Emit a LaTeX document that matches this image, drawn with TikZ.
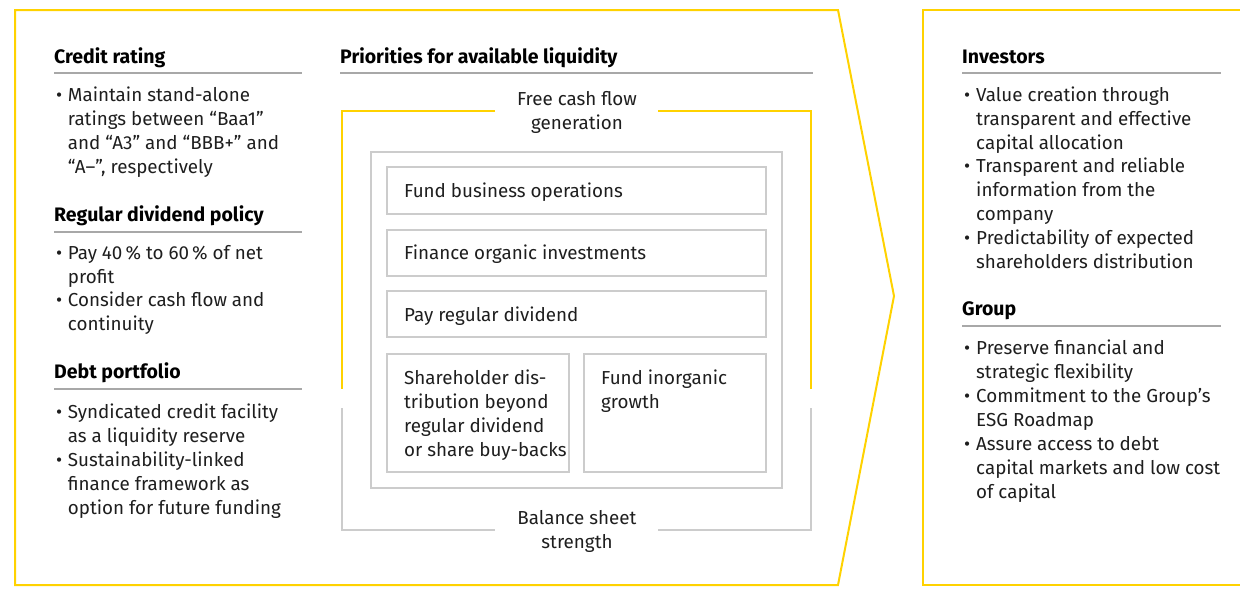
\documentclass[tikz,border=0pt]{standalone}
\usepackage{fontspec}
\setmainfont{Fira Sans}
\definecolor{ayellow}{HTML}{FFD200}
\definecolor{boxgray}{HTML}{CCCCCC}
\definecolor{rulegray}{HTML}{A8A8A8}
\definecolor{ink}{HTML}{1E1E1E}
\newcommand\bodyfnt{\fontsize{18.8}{24}\selectfont}
\newcommand\headfnt{\fontsize{19.5}{24}\selectfont}
\newcommand\sst{\rule{0pt}{16.8pt}}
% #1 style, #2 name, #3 x, #4 baseline y, #5 text
\newcommand\Tn[5]{\node[#1] (#2) at (#3,{#4-16.8}) {\sst#5};}
\begin{document}
\begin{tikzpicture}[x=1pt,y=-1pt,
  txt/.style={anchor=north west, inner sep=0pt, align=left, font=\bodyfnt, text=ink},
  ctxt/.style={anchor=north, inner sep=0pt, align=center, font=\bodyfnt, text=ink},
  head/.style={anchor=north west, inner sep=0pt, align=left, font=\headfnt\bfseries, text=black},
  yline/.style={draw=ayellow, line width=2pt},
  gline/.style={draw=boxgray, line width=2pt},
  hrule/.style={draw=rulegray, line width=1.2pt}]
\useasboundingbox (0,0) rectangle (1240,595);
% outer shapes
\draw[yline, line join=miter] (15,10) -- (838,10) -- (894,296) -- (838,585) -- (15,585) -- cycle;
\draw[yline] (1242,10) -- (923,10) -- (923,585) -- (1242,585);

% left column
\Tn{head}{hcr}{54}{63}{Credit rating}
\draw[hrule] (54,73) -- (302,73);
\Tn{txt}{bu1}{56}{101}{•}
\Tn{txt}{t1}{67.7}{101}{Maintain stand-alone\\ratings between “Baa1”\\and “A3” and “BBB+” and\\“A–”, respectively}
\Tn{head}{hrd}{54}{221}{Regular dividend policy}
\draw[hrule] (54,232) -- (302,232);
\Tn{txt}{bu2}{56}{259}{•}
\Tn{txt}{t2}{67.7}{259}{Pay 40\,\% to 60\,\% of net\\profit}
\Tn{txt}{bu3}{56}{306}{•}
\Tn{txt}{t3}{67.7}{306}{Consider cash flow and\\continuity}
\Tn{head}{hdp}{54}{378}{Debt portfolio}
\draw[hrule] (54,389) -- (302,389);
\Tn{txt}{bu4}{56}{418}{•}
\Tn{txt}{t4}{67.7}{418}{Syndicated credit facility\\as a liquidity reserve}
\Tn{txt}{bu5}{56}{466}{•}
\Tn{txt}{t5}{67.7}{466}{Sustainability-linked\\finance framework as\\option for future funding}

% middle
\Tn{head}{hpr}{340}{63}{Priorities for available liquidity}
\draw[hrule] (340,73) -- (813,73);
\draw[yline] (495,111) -- (342,111) -- (342,389);
\draw[yline] (658,111) -- (811,111) -- (811,389);
\Tn{ctxt}{fcf}{577}{105}{Free cash flow\\generation}
\draw[gline] (342,408) -- (342,530) -- (495,530);
\draw[gline] (811,408) -- (811,530) -- (658,530);
\Tn{ctxt}{bss}{577}{524}{Balance sheet\\strength}
\draw[gline] (371,152) rectangle (782,488);
\draw[gline] (387,167) rectangle (766,214);
\draw[gline] (387,230) rectangle (766,276);
\draw[gline] (387,291) rectangle (766,337);
\draw[gline] (387,354) rectangle (569,472);
\draw[gline] (584,354) rectangle (766,472);
\Tn{txt}{p1}{404}{197}{Fund business operations}
\Tn{txt}{p2}{404}{259}{Finance organic investments}
\Tn{txt}{p3}{404}{321}{Pay regular dividend}
\Tn{txt}{p4}{404}{384}{Shareholder dis-\\tribution beyond\\regular dividend\\or share buy-backs}
\Tn{txt}{p5}{601}{384}{Fund inorganic\\growth}

% right column
\Tn{head}{hin}{962}{63}{Investors}
\draw[hrule] (962,73) -- (1221,73);
\Tn{txt}{bu6}{964}{101}{•}
\Tn{txt}{r1}{976}{101}{Value creation through\\transparent and effective\\capital allocation}
\Tn{txt}{bu7}{964}{172}{•}
\Tn{txt}{r2}{976}{172}{Transparent and reliable\\information from the\\company}
\Tn{txt}{bu8}{964}{244}{•}
\Tn{txt}{r3}{976}{244}{Predictability of expected\\shareholders distribution}
\Tn{head}{hgr}{962}{315}{Group}
\draw[hrule] (962,326) -- (1221,326);
\Tn{txt}{bu9}{964}{354}{•}
\Tn{txt}{r4}{976}{354}{Preserve financial and\\strategic flexibility}
\Tn{txt}{bu10}{964}{402}{•}
\Tn{txt}{r5}{976}{402}{Commitment to the Group’s\\ESG Roadmap}
\Tn{txt}{bu11}{964}{450}{•}
\Tn{txt}{r6}{976}{450}{Assure access to debt\\capital markets and low cost\\of capital}
\end{tikzpicture}
\end{document}
